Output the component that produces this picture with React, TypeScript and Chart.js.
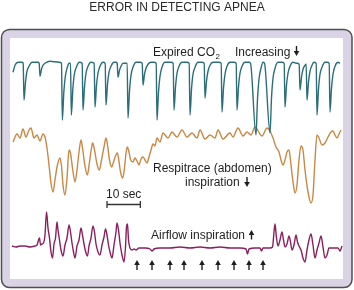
import React, { useEffect, useRef } from "react";
import { Chart, registerables } from "chart.js";

Chart.register(...registerables);

type Pt = [number, number];

const TITLE = "ERROR IN DETECTING APNEA";

// time (s), expired CO2 deflection (downward = increasing)
const expiredCO2: Pt[] = [
  [0.3, 9], [0.9, 2], [1.8, -1], [3.0, -1],
  [3.35, 0], [3.6, 37], [4.05, 19], [4.5, 8], [5.1, 3], [6.0, -1], [7.8, -1],
  [8.15, 0], [8.4, 13], [8.85, 6], [9.3, 2], [9.9, 0], [11.4, -2], [14.1, -1],
  [14.85, 0], [15.1, 57], [15.55, 29], [16.0, 13], [16.6, 4], [17.1, 0],
  [17.55, 0], [17.8, 52], [18.25, 26], [18.7, 11], [19.3, 4], [20.2, -1],
  [21.05, 0], [21.3, 47], [21.75, 24], [22.2, 10], [22.8, 3], [23.7, -1],
  [24.65, 0], [24.9, 44], [25.35, 22], [25.8, 10], [26.4, 3], [27.3, -1],
  [27.95, 0], [28.2, 42], [28.65, 21], [29.1, 9], [29.7, 3], [30.6, -1], [31.2, -1],
  [31.55, 0], [31.8, 14], [32.25, 7], [32.7, 3], [33.3, 0],
  [34.55, 0], [34.8, 55], [35.25, 28], [35.7, 12], [36.3, 4], [37.2, -1], [38.4, -1],
  [39.05, 0], [39.3, 22], [39.75, 11], [40.2, 5], [40.8, 1], [41.7, -1], [42.6, -1],
  [43.25, 0], [43.5, 57], [43.95, 29], [44.4, 13], [45.0, 4], [45.9, -1], [47.7, -1],
  [48.35, 0], [48.6, 47], [49.05, 24], [49.5, 10], [50.1, 3], [51.0, -1], [52.5, -1],
  [53.15, 0], [53.4, 52], [53.85, 26], [54.3, 11], [54.9, 4], [55.8, -1], [57.0, -1],
  [57.65, 0], [57.9, 35], [58.35, 18], [58.8, 8], [59.4, 2], [60.3, -1], [62.1, -1],
  [62.75, 0], [63.0, 49], [63.45, 25], [63.9, 11], [64.5, 3], [65.4, -1], [66.6, -1],
  [67.25, 0], [67.5, 47], [67.95, 24], [68.4, 10], [69.0, 3], [69.9, -1], [71.1, -1],
  [71.55, 0], [73.2, 72], [73.65, 36], [74.1, 16], [74.7, 5], [75.3, -1],
  [75.75, 0], [77.4, 70], [77.85, 35], [78.3, 15], [78.9, 5], [79.8, -1], [81.0, -1],
  [81.65, 0], [81.9, 44], [82.35, 22], [82.8, 10], [83.4, 3], [84.3, -1], [85.5, 0],
  [86.15, 1], [86.4, 27], [86.85, 14], [87.3, 6], [87.9, 2],
  [88.25, 1], [88.5, 37], [88.95, 19], [89.4, 8], [90.0, 2], [90.6, -1],
  [91.25, 0], [91.5, 52], [91.95, 26], [92.4, 11], [93.0, 4], [93.9, -1], [94.5, -1],
  [95.15, 0], [95.4, 49], [95.85, 25], [96.3, 11], [96.9, 3], [97.8, -1], [98.4, 0],
];

// time (s), respitrace abdomen deflection (downward = inspiration)
const respitrace: Pt[] = [
  [0.3, 2], [1.5, -6], [2.4, -2], [3.3, -11], [4.2, -3], [5.1, -10], [5.7, -12], [6.6, -2],
  [7.5, -5], [8.4, 1], [9.3, -6], [9.9, -3], [10.5, 8], [11.1, 25], [11.7, 43], [12.3, 52],
  [12.9, 40], [13.5, 27], [14.4, 18], [14.85, 26], [15.3, 45], [15.9, 55], [16.5, 38],
  [17.1, 10], [17.55, 13], [18.15, 28], [18.9, 42], [19.5, 30], [20.1, 12], [20.7, 0],
  [21.15, 8], [21.9, 26], [22.6, 35], [23.25, 22], [23.85, 8], [24.2, 3], [24.75, 10],
  [25.5, 24], [26.2, 30], [26.85, 20], [27.6, 7], [28.2, -2], [28.65, 5], [29.25, 20],
  [29.9, 27], [30.45, 22], [31.05, 16], [31.6, 13], [31.95, 18], [32.55, 32], [33.2, 38],
  [33.75, 28], [34.2, 13], [34.6, 7], [35.1, 12], [35.6, 20], [36.3, 22], [36.9, 18],
  [37.5, 21], [38.1, 25], [38.7, 19], [39.3, 17], [39.9, 20], [40.5, 23], [41.1, 17],
  [41.7, 10], [42.3, 4], [42.9, 6], [43.5, -2], [44.4, 2], [45.3, -7], [46.8, -2],
  [48.0, -8], [49.5, -3], [51.0, -10], [52.5, -3], [54.0, -7], [55.5, -2], [56.4, -10],
  [57.9, -1], [59.4, -5], [60.9, -2], [61.8, -10], [63.3, -1], [65.4, -7], [66.3, -3],
  [67.8, -12], [69.3, -4], [70.5, -8], [71.7, -5], [72.9, -13], [75.0, -4], [76.5, -12],
  [77.4, -9], [78.3, -2], [79.2, 7], [80.1, 12], [80.7, 20], [81.3, 25], [81.9, 20],
  [82.5, 12], [83.1, 10], [83.7, 25], [84.3, 42], [84.9, 53], [85.5, 45], [86.1, 20],
  [86.7, 6], [87.3, 10], [87.9, 30], [88.8, 52], [89.7, 63], [90.3, 55], [90.9, 20],
  [91.5, -5], [92.1, -2], [93.0, 5], [93.9, 3], [94.8, -3], [95.7, -8], [96.3, -9],
  [96.9, -5], [97.5, -2], [98.1, -6], [98.7, -10],
];

// time (s), airflow deflection (upward = inspiration)
const airflow: Pt[] = [
  [0, 2], [1.2, 1], [2.4, 2], [3.9, 2], [5.4, 1], [6.9, 2], [7.5, 3], [7.95, 8], [8.25, 10],
  [8.55, 3], [9.0, 4], [9.45, 5], [9.9, 13], [10.35, 36], [10.8, 20], [11.25, 10], [11.7, -4],
  [12.15, -10], [12.6, 4], [13.05, 10], [13.5, 26], [13.8, 18], [14.25, 8], [14.7, -2],
  [15.3, -8], [15.9, 3], [16.5, 10], [17.1, 23], [17.55, 16], [18.0, 5], [18.45, -4],
  [18.9, -10], [19.5, 2], [20.1, 8], [20.7, 20], [21.15, 13], [21.6, 4], [22.2, -5],
  [22.65, -8], [23.1, 2], [23.7, 10], [24.3, 22], [24.75, 16], [25.2, 4], [25.8, -4],
  [26.4, -7], [27.0, 3], [27.6, 11], [28.05, 19], [28.5, 13], [28.95, 3], [29.4, -4],
  [30.0, -10], [30.6, 3], [31.2, 16], [31.5, 25], [31.95, 18], [32.4, 5], [33.0, -7],
  [33.6, -14], [34.05, 1], [34.35, 21], [34.65, 24], [34.95, 8], [35.4, 0], [36.0, -2],
  [36.6, -1], [37.2, -2], [38.1, 0], [39.9, 0], [41.4, -1], [42.0, -3], [42.6, -1],
  [44.4, 0], [47.4, 0], [50.4, 1], [53.4, 0], [56.4, 1], [59.4, 0], [62.4, 1], [65.4, 0],
  [68.4, 0], [70.2, -1], [70.65, -6], [71.1, -1], [72.9, 0], [74.4, 0], [74.85, -3],
  [75.3, 0], [77.4, 0], [78.15, 1], [78.6, 16], [78.9, 24], [79.35, 10], [79.8, 2],
  [80.4, 8], [81.0, 16], [81.45, 8], [81.9, 1], [82.5, 4], [83.1, 12], [83.55, 6],
  [84.0, -2], [84.6, 3], [85.2, 13], [85.65, 6], [86.1, 2], [86.7, -2], [87.3, -10],
  [87.9, -14], [88.5, -2], [89.1, 8], [89.7, 14], [90.3, 3], [90.9, -10], [91.5, -2],
  [92.1, 5], [92.7, 12], [93.3, 1], [93.9, -10], [94.5, -7], [95.1, 0], [96.6, 0],
  [97.8, 0], [98.4, -3], [99.0, 2],
];

// ineffective inspiratory efforts (s)
const effortTimes = [37.5, 42.0, 47.4, 51.6, 57.0, 61.8, 66.6, 71.1, 75.3];
const scaleBarStart = 28.5;
const scaleBarSeconds = 10;

const FONT = '"Liberation Sans", Arial, Helvetica, sans-serif';
const INK = "#1e1e1e";
const TEAL = "#2b6e79";
const ORANGE = "#c98843";
const MAGENTA = "#8c1f5e";

function drawArrow(ctx: CanvasRenderingContext2D, x: number, tail: number, tip: number) {
  const dir = tip > tail ? 1 : -1;
  const headLen = 5;
  const half = 2.8;
  ctx.beginPath();
  ctx.moveTo(x, tail);
  ctx.lineTo(x, tip - dir * headLen);
  ctx.lineWidth = 1.4;
  ctx.strokeStyle = INK;
  ctx.stroke();
  ctx.beginPath();
  ctx.moveTo(x, tip);
  ctx.lineTo(x - half, tip - dir * headLen);
  ctx.lineTo(x + half, tip - dir * headLen);
  ctx.closePath();
  ctx.fillStyle = INK;
  ctx.fill();
}

const framePlugin = {
  id: "frame",
  beforeDraw(chart: any) {
    const ctx: CanvasRenderingContext2D = chart.ctx;
    ctx.save();
    ctx.beginPath();
    (ctx as any).roundRect(1.5, 29.5, 350.5, 258, 8);
    ctx.fillStyle = "#dad3e5";
    ctx.fill();
    ctx.lineWidth = 1.5;
    ctx.strokeStyle = "#4f4f4f";
    ctx.stroke();
    ctx.fillStyle = "#ffffff";
    ctx.fillRect(10, 38, 333, 241);
    ctx.restore();
  },
  afterDraw(chart: any) {
    const ctx: CanvasRenderingContext2D = chart.ctx;
    const xs = chart.scales.x;
    ctx.save();
    ctx.fillStyle = INK;
    ctx.textBaseline = "alphabetic";
    ctx.font = `12px ${FONT}`;
    ctx.textAlign = "left";
    ctx.fillText("Expired CO", 153, 55.5);
    const w = ctx.measureText("Expired CO").width;
    ctx.font = `8px ${FONT}`;
    ctx.fillText("2", 153 + w + 0.5, 58.5);
    ctx.font = `12px ${FONT}`;
    ctx.fillText("Increasing", 235, 55.5);
    drawArrow(ctx, 296.5, 46, 56);

    ctx.fillText("Respitrace (abdomen)", 153, 172);
    ctx.fillText("inspiration", 185, 186);
    drawArrow(ctx, 247, 177, 187);

    ctx.fillText("Airflow inspiration", 151, 238.5);
    drawArrow(ctx, 251.5, 239.5, 230);

    // 10 sec scale bar
    const x0 = xs.getPixelForValue(scaleBarStart);
    const x1 = xs.getPixelForValue(scaleBarStart + scaleBarSeconds);
    ctx.textAlign = "center";
    ctx.fillText(`${scaleBarSeconds} sec`, (x0 + x1) / 2, 198);
    ctx.beginPath();
    ctx.moveTo(x0, 204.5);
    ctx.lineTo(x1, 204.5);
    ctx.moveTo(x0, 201);
    ctx.lineTo(x0, 208);
    ctx.moveTo(x1, 201);
    ctx.lineTo(x1, 208);
    ctx.lineWidth = 1.3;
    ctx.strokeStyle = "#333";
    ctx.stroke();

    for (const t of effortTimes) {
      drawArrow(ctx, xs.getPixelForValue(t), 270, 260);
    }
    ctx.restore();
  },
};

const toXY = (arr: Pt[]) => arr.map(([x, y]) => ({ x, y }));

export default function App() {
  const ref = useRef<HTMLCanvasElement | null>(null);
  useEffect(() => {
    if (!ref.current) return;
    Chart.defaults.font.family = FONT;
    const common = {
      pointRadius: 0,
      borderWidth: 1.4,
      fill: false,
      cubicInterpolationMode: "monotone" as const,
      clip: false as any,
    };
    const chart = new Chart(ref.current, {
      type: "line",
      data: {
        datasets: [
          { ...common, label: "Expired CO2", data: toXY(expiredCO2), borderColor: TEAL, yAxisID: "yCO2" },
          { ...common, label: "Respitrace (abdomen)", data: toXY(respitrace), borderColor: ORANGE, yAxisID: "yResp" },
          { ...common, label: "Airflow", data: toXY(airflow), borderColor: MAGENTA, yAxisID: "yAir" },
        ],
      },
      options: {
        responsive: false,
        devicePixelRatio: 1,
        animation: false,
        layout: { padding: { left: 12, right: 12, top: 0, bottom: 12 } },
        plugins: {
          legend: { display: false },
          tooltip: { enabled: false },
          title: {
            display: true,
            text: TITLE,
            color: "#2a2a2a",
            font: { family: FONT, size: 12, weight: "normal" },
            padding: { top: 0, bottom: 26 },
          },
        },
        scales: {
          x: { type: "linear", min: 0, max: 99, display: false },
          yCO2: { type: "linear", position: "right", stack: "traces", stackWeight: 85.6, reverse: true, min: -23, max: 63, display: false },
          yResp: { type: "linear", position: "right", stack: "traces", stackWeight: 80, reverse: true, min: -14, max: 66, display: false },
          yAir: { type: "linear", position: "right", stack: "traces", stackWeight: 72, min: -30, max: 42, display: false },
        },
      },
      plugins: [framePlugin],
    });
    return () => chart.destroy();
  }, []);
  return (
    <canvas
      ref={ref}
      width={354}
      height={290}
      style={{ position: "fixed", left: 0, top: 0, width: 354, height: 290 }}
    />
  );
}
